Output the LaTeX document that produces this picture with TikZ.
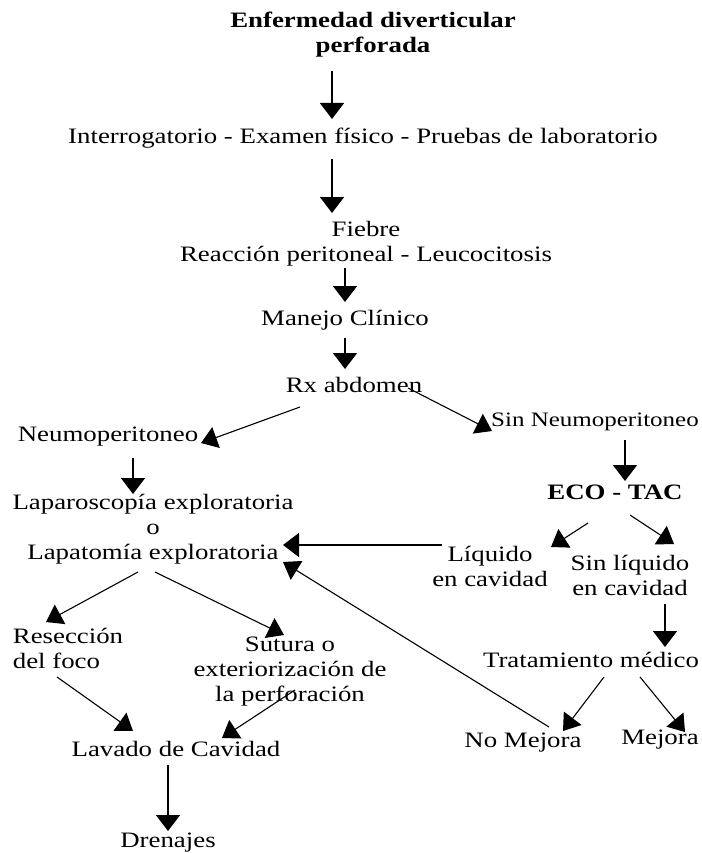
\documentclass[tikz,border=0pt]{standalone}
\usepackage{fontspec}
\setmainfont[FakeStretch=1.22]{Liberation Serif}
\usetikzlibrary{arrows.meta}
\begin{document}
\begin{tikzpicture}[x=1pt,y=-1pt,
  txt/.style={inner sep=0pt,align=center,font=\fontsize{22}{25}\selectfont},
  btxt/.style={txt,font=\fontsize{22}{25}\selectfont\bfseries},
  arr/.style={-{Triangle[width=24pt,length=16pt]},line width=1.5pt},
  darr/.style={-{Triangle[width=22pt,length=16pt]},line width=1.1pt}]
\useasboundingbox[fill=white] (0,0) rectangle (701,853);
% nodes
\node[btxt] (t) at (373,35) {Enfermedad diverticular\\perforada};
\node[txt] (i) at (363,138) {Interrogatorio - Examen físico - Pruebas de laboratorio};
\node[txt] (f) at (366,244) {Fiebre\\Reacción peritoneal - Leucocitosis};
\node[txt] (m) at (345,320) {Manejo Clínico};
\node[txt] (rx) at (354,385) {Rx abdomen};
\node[txt] (np) at (108,437) {Neumoperitoneo};
\node[txt,font=\fontsize{20.5}{25}\selectfont] (snp) at (595,422) {Sin Neumoperitoneo};
\node[btxt] (eco) at (615,492) {ECO - TAC};
\node[txt] (liq) at (490,566) {Líquido\\en cavidad};
\node[txt] (sliq) at (630,575) {Sin líquido\\en cavidad};
\node[txt] (lap) at (153,529) {Laparoscopía exploratoria\\o\\Lapatomía exploratoria};
\node[txt,align=left] (res) at (68,648) {Resección\\del foco};
\node[txt] (sut) at (290,672) {Sutura o\\exteriorización de\\la perforación};
\node[txt] (lav) at (176,749) {Lavado de Cavidad};
\node[txt] (dre) at (168,843) {Drenajes};
\node[txt] (tm) at (591,660) {Tratamiento médico};
\node[txt] (nm) at (523,743) {No Mejora};
\node[txt] (me) at (660,740) {Mejora};
% coordinates for connector ends
\coordinate (a1s) at (332,71);  \coordinate (a1e) at (332,119);
\coordinate (a2s) at (332,159); \coordinate (a2e) at (332,213);
\coordinate (a3s) at (345,268); \coordinate (a3e) at (345,302);
\coordinate (a4s) at (345,338); \coordinate (a4e) at (345,369);
\coordinate (rxl) at (300,407); \coordinate (npe) at (201,443);
\coordinate (rxr) at (408,388); \coordinate (snpe) at (492,431);
\coordinate (snps) at (625,440); \coordinate (snpd) at (625,481);
\coordinate (ecol) at (588,523); \coordinate (ecole) at (551,547);
\coordinate (ecor) at (630,515); \coordinate (ecore) at (674,544);
\coordinate (liqs) at (442,545); \coordinate (lape) at (283,545);
\coordinate (nps) at (133,458); \coordinate (npd) at (133,494);
\coordinate (nms) at (549,727); \coordinate (nme) at (283,562);
\coordinate (lapl) at (138,572); \coordinate (rese) at (46,622);
\coordinate (lapr) at (155,572); \coordinate (sute) at (284,635);
\coordinate (ress) at (57,677); \coordinate (lave1) at (133,731);
\coordinate (suts) at (295,690); \coordinate (lave2) at (222,738);
\coordinate (lavs) at (168,765); \coordinate (dree) at (168,831);
\coordinate (sls) at (665,604); \coordinate (sle) at (665,647);
\coordinate (tml) at (604,677); \coordinate (nmh) at (563,731);
\coordinate (tmr) at (640,677); \coordinate (meh) at (685,732);
% connectors
\draw[arr] (a1s) -- (a1e);
\draw[arr] (a2s) -- (a2e);
\draw[arr] (a3s) -- (a3e);
\draw[arr] (a4s) -- (a4e);
\draw[darr] (rxl) -- (npe);
\draw[darr] (rxr) -- (snpe);
\draw[arr] (snps) -- (snpd);
\draw[darr] (ecol) -- (ecole);
\draw[darr] (ecor) -- (ecore);
\draw[arr] (liqs) -- (lape);
\draw[arr] (nps) -- (npd);
\draw[darr] (nms) -- (nme);
\draw[darr] (lapl) -- (rese);
\draw[darr] (lapr) -- (sute);
\draw[darr] (ress) -- (lave1);
\draw[darr] (suts) -- (lave2);
\draw[arr] (lavs) -- (dree);
\draw[arr] (sls) -- (sle);
\draw[darr] (tml) -- (nmh);
\draw[darr] (tmr) -- (meh);
\end{tikzpicture}
\end{document}
